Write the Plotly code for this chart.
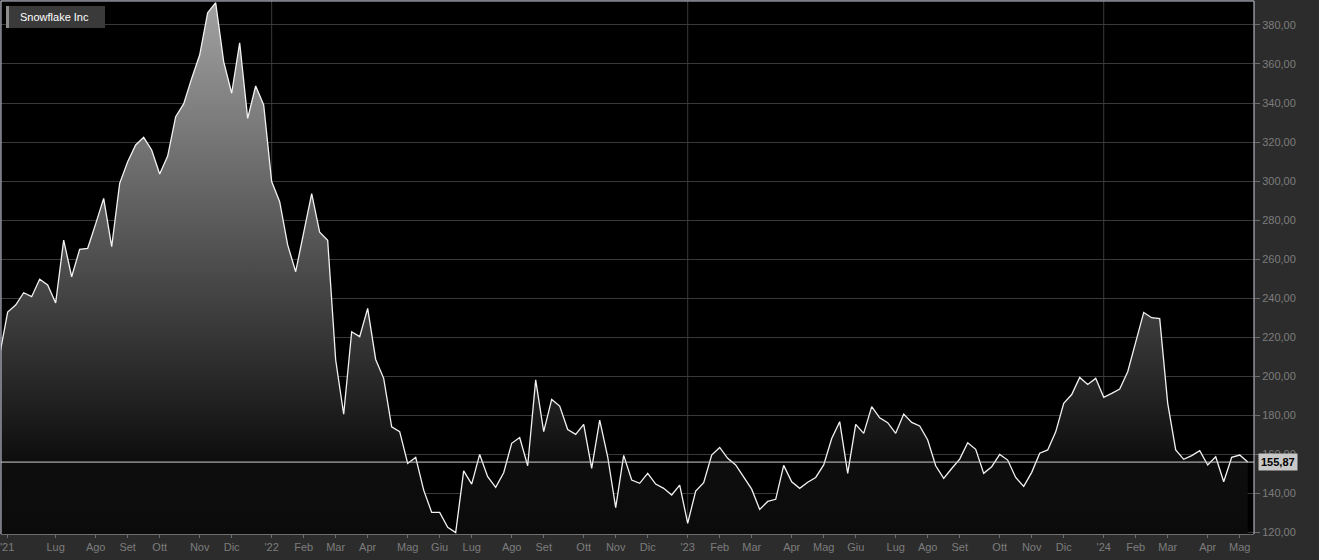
import pandas as pd
import plotly.graph_objects as go

# ---- data (weekly closes, Fridays) ----
start_date = "2021-05-14"
n_weeks = 157
prices = [
    210.8, 232.8, 236.4, 242.7, 240.7, 249.6, 246.7, 237.5, 269.7, 250.9,
    265.0, 265.5, 278.0, 291.1, 266.3, 298.8, 309.9, 318.5, 322.4, 315.9,
    303.6, 312.8, 333.0, 339.5, 352.6, 364.6, 386.3, 391.4, 361.2, 345.0,
    370.9, 332.1, 348.7, 339.0, 299.7, 289.4, 267.2, 253.5, 273.5, 293.5,
    273.7, 269.6, 208.2, 180.4, 222.7, 220.2, 234.7, 208.5, 198.8, 174.0,
    171.5, 155.2, 158.3, 141.5, 130.1, 130.1, 122.4, 119.7, 151.4, 144.6,
    159.8, 148.4, 142.9, 150.4, 165.5, 168.5, 154.0, 198.0, 171.5, 188.0,
    184.6, 172.6, 170.1, 175.2, 152.6, 177.4, 158.6, 132.5, 159.3, 146.7,
    145.0, 150.1, 144.6, 142.4, 139.0, 144.1, 124.5, 141.0, 145.3, 159.5,
    163.4, 157.8, 154.4, 148.4, 142.0, 131.6, 135.7, 136.8, 154.2, 145.8,
    142.4, 145.5, 148.0, 154.4, 168.0, 176.6, 150.1, 175.2, 170.6, 184.3,
    178.6, 176.1, 170.6, 180.5, 176.2, 174.4, 167.2, 154.0, 147.5, 152.6,
    157.4, 165.8, 162.4, 150.1, 153.5, 159.8, 156.9, 148.0, 143.4, 150.6,
    160.4, 162.1, 171.4, 186.0, 190.5, 199.3, 195.7, 198.8, 189.1, 191.1,
    193.3, 202.2, 217.6, 232.6, 229.9, 229.4, 186.0, 162.1, 157.3, 159.2,
    161.7, 154.4, 158.6, 145.8, 158.3, 159.5, 155.87,
]
last_price = 155.87
series_name = "Snowflake Inc"
month_labels = ["Gen", "Feb", "Mar", "Apr", "Mag", "Giu",
                "Lug", "Ago", "Set", "Ott", "Nov", "Dic"]
y_ticks = [120, 140, 160, 180, 200, 220, 240, 260, 280, 300, 320, 340, 360, 380]
first_month_tick = "2021-07-01"

dates = pd.date_range(start_date, periods=n_weeks, freq="7D")

# ---- tick positions: first weekly point of each month ----
tickvals, ticktext, year_lines = [], [], []
tickvals.append(dates[0] + pd.Timedelta(days=6.5))
ticktext.append("'21")
seen = set()
for d in dates:
    if d < pd.Timestamp(first_month_tick):
        continue
    key = (d.year, d.month)
    if key in seen:
        continue
    seen.add(key)
    tickvals.append(d)
    if d.month == 1:
        ticktext.append("'" + str(d.year)[2:])
        year_lines.append(d)
    else:
        ticktext.append(month_labels[d.month - 1])

W, H = 1319, 560
ML, MR, MT, MB = 1, 65, 1, 26
PW, PH = W - ML - MR, H - MT - MB

x0 = dates[0] + pd.Timedelta(days=1.17)
x1 = dates[0] + pd.Timedelta(days=1097.5)
y0, y1 = 119.0, 392.3

def px(xp):
    return (xp - ML) / PW

def py(yp):
    return 1 - (yp - MT) / PH

FONT = "Liberation Sans, Arial, Helvetica, sans-serif"
GRID = "#3a3a3a"

fig = go.Figure()
fig.add_trace(go.Scatter(
    x=dates, y=prices, mode="lines",
    line=dict(color="#f2f2f2", width=1.3),
    fill="tozeroy",
    fillgradient=dict(type="vertical",
                      colorscale=[[0, "#0b0b0b"], [0.14, "#0e0e0e"], [1, "#a2a2a2"]],
                      start=119, stop=392),
    hoverinfo="skip", showlegend=False,
))

shapes = []
for d in year_lines:
    shapes.append(dict(type="line", xref="x", yref="paper", x0=d, x1=d, y0=0, y1=1,
                       line=dict(color=GRID, width=1), layer="below"))
# current price line
shapes.append(dict(type="line", xref="paper", yref="y", x0=0, x1=1,
                   y0=last_price, y1=last_price, line=dict(color="#cfcfcf", width=1)))
# frame (top, left, right)
for (a, b, c, d) in [(0, 1, 1, 1), (0, 0, 0, 1), (1, 1, 0, 1)]:
    shapes.append(dict(type="line", xref="paper", yref="paper", x0=a, x1=b, y0=c, y1=d,
                       line=dict(color="#c9cce0", width=1)))
# legend box
shapes.append(dict(type="rect", xref="paper", yref="paper",
                   x0=px(6), x1=px(105), y0=py(28), y1=py(6),
                   fillcolor="#3a3a3a", line=dict(width=0)))
shapes.append(dict(type="rect", xref="paper", yref="paper",
                   x0=px(6), x1=px(9), y0=py(28), y1=py(6),
                   fillcolor="#8c8c8c", line=dict(width=0)))

annotations = [
    dict(xref="paper", yref="paper", x=px(18), y=py(17), text=series_name,
         showarrow=False, xanchor="left", yanchor="middle",
         font=dict(family=FONT, size=11, color="#ffffff")),
    dict(xref="paper", yref="y", x=1, y=last_price, xshift=4,
         text="<b>" + f"{last_price:.2f}".replace(".", ",") + "</b>",
         showarrow=False, xanchor="left", yanchor="middle",
         bgcolor="#c8c8c8", borderpad=2,
         font=dict(family=FONT, size=11, color="#000000")),
]

fig.update_layout(
    width=W, height=H,
    margin=dict(l=ML, r=MR, t=MT, b=MB, pad=0, autoexpand=False),
    paper_bgcolor="#2c2c2c", plot_bgcolor="#000000",
    separators=",.",
    hovermode=False,
    shapes=shapes, annotations=annotations,
    xaxis=dict(type="date", range=[x0, x1], tickvals=tickvals, ticktext=ticktext,
               showgrid=False, zeroline=False, automargin=False,
               showline=True, linecolor="#6e6e6e", linewidth=1,
               ticks="outside", ticklen=3, tickcolor="#6e6e6e",
               ticklabeloverflow="allow",
               tickfont=dict(family=FONT, size=11, color="#7c7c7c")),
    yaxis=dict(range=[y0, y1], side="right", tickvals=y_ticks, tickformat=".2f",
               showgrid=True, gridcolor=GRID, gridwidth=1, zeroline=False,
               showline=False, automargin=False,
               ticks="outside", ticklen=5, tickcolor="#6e6e6e",
               tickfont=dict(family=FONT, size=11, color="#7c7c7c")),
)

fig.write_html("out.html",
               config={"displayModeBar": False},
               post_script="document.body.style.margin='0';document.body.style.background='#2c2c2c';")
